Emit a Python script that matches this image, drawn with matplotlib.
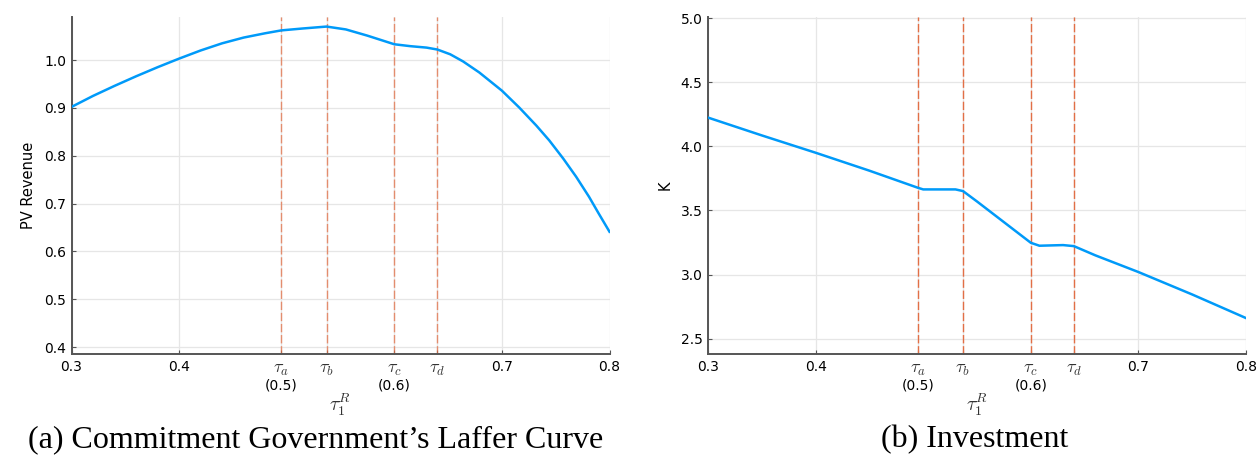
import matplotlib
matplotlib.use("Agg")
import matplotlib.pyplot as plt
import matplotlib.transforms as mtrans

plt.rcParams['mathtext.fontset'] = 'cm'
plt.rcParams['font.family'] = ['DejaVu Sans']

# threshold taxes (dashed lines)
tau_cuts = [0.495, 0.537, 0.600, 0.640]
tick_pos = [0.3, 0.4] + tau_cuts + [0.7, 0.8]
tick_lab = ['0.3', '0.4', '$\\tau_a$', '$\\tau_b$', '$\\tau_c$', '$\\tau_d$', '0.7', '0.8']
sub_lab = ['(0.5)', '', '(0.6)', '']

# (a) PV revenue
tau_a = [0.30, 0.32, 0.34, 0.36, 0.38, 0.40, 0.42, 0.44, 0.46, 0.48, 0.495, 0.515,
         0.537, 0.555, 0.575, 0.600, 0.615, 0.630, 0.640, 0.652, 0.664, 0.679, 0.700,
         0.716, 0.732, 0.744, 0.757, 0.769, 0.781, 0.790, 0.80]
rev = [0.902, 0.925, 0.946, 0.966, 0.985, 1.003, 1.020, 1.035, 1.047, 1.056, 1.062, 1.066,
       1.070, 1.064, 1.051, 1.033, 1.029, 1.026, 1.022, 1.012, 0.997, 0.974, 0.936,
       0.901, 0.863, 0.832, 0.794, 0.756, 0.714, 0.679, 0.641]

# (b) investment
tau_b = [0.30, 0.35, 0.40, 0.45, 0.495, 0.50, 0.53, 0.537, 0.55, 0.60, 0.608, 0.63,
         0.64, 0.66, 0.70, 0.75, 0.80]
K = [4.224, 4.085, 3.950, 3.810, 3.677, 3.664, 3.664, 3.651, 3.570, 3.248, 3.225, 3.230,
     3.222, 3.150, 3.020, 2.845, 2.661]

blue = '#009af9'
red = '#e26f46'

fig = plt.figure(figsize=(12.6, 4.57), dpi=100)
ax1 = fig.add_axes([71.5/1260, 1-354/457, 538/1260, 337/457])
ax2 = fig.add_axes([708/1260, 1-354/457, 538/1260, 337/457])


def style(ax, ylim, yticks, ylabel, line_alpha):
    for t in tau_cuts:
        ax.axvline(t, color=red, lw=1.0, ls=(0, (6, 2)), alpha=line_alpha, zorder=2)
    ax.set_xlim(0.3, 0.8)
    ax.set_ylim(*ylim)
    ax.set_yticks(yticks)
    ax.set_xticks(tick_pos)
    ax.set_xticklabels(tick_lab)
    ax.tick_params(direction='in', length=3, width=0.8, color='#555555', labelsize=10, pad=4)
    for lab, s in zip(ax.get_xticklabels(), tick_lab):
        if '$' in s:
            lab.set_color('#333333')
            lab.set_fontsize(13)
    trans = mtrans.blended_transform_factory(ax.transData, ax.transAxes)
    for t, s in zip(tau_cuts, sub_lab):
        ax.text(t, -0.092, s, transform=trans, ha='center', va='center', fontsize=10)
    ax.grid(True, color='#e6e6e6', lw=0.9)
    ax.set_axisbelow(True)
    for s in ['top', 'right']:
        ax.spines[s].set_visible(False)
    for s in ['left', 'bottom']:
        ax.spines[s].set_color('#555555')
        ax.spines[s].set_linewidth(1.4)
    ax.set_ylabel(ylabel, fontsize=10.5, labelpad=6)
    ax.set_xlabel('$\\tau_1^R$', fontsize=14, color='#333333', va='center')
    ax.xaxis.set_label_coords(0.5, -0.151)


ax1.plot(tau_a, rev, color=blue, lw=1.8, zorder=3)
style(ax1, (0.3854, 1.090), [0.4, 0.5, 0.6, 0.7, 0.8, 0.9, 1.0], 'PV Revenue', 0.75)
ax1.set_yticklabels(['0.4', '0.5', '0.6', '0.7', '0.8', '0.9', '1.0'])

ax2.plot(tau_b, K, color=blue, lw=1.8, zorder=3)
style(ax2, (2.381, 5.008), [2.5, 3.0, 3.5, 4.0, 4.5, 5.0], 'K', 1.0)

fig.text(316/1260, 1-440/457, '(a) Commitment Government\u2019s Laffer Curve',
         family='Liberation Serif', fontsize=23, ha='center', va='center')
fig.text(975/1260, 1-440/457, '(b) Investment',
         family='Liberation Serif', fontsize=23, ha='center', va='center')

fig.savefig('out.png', dpi=100)
